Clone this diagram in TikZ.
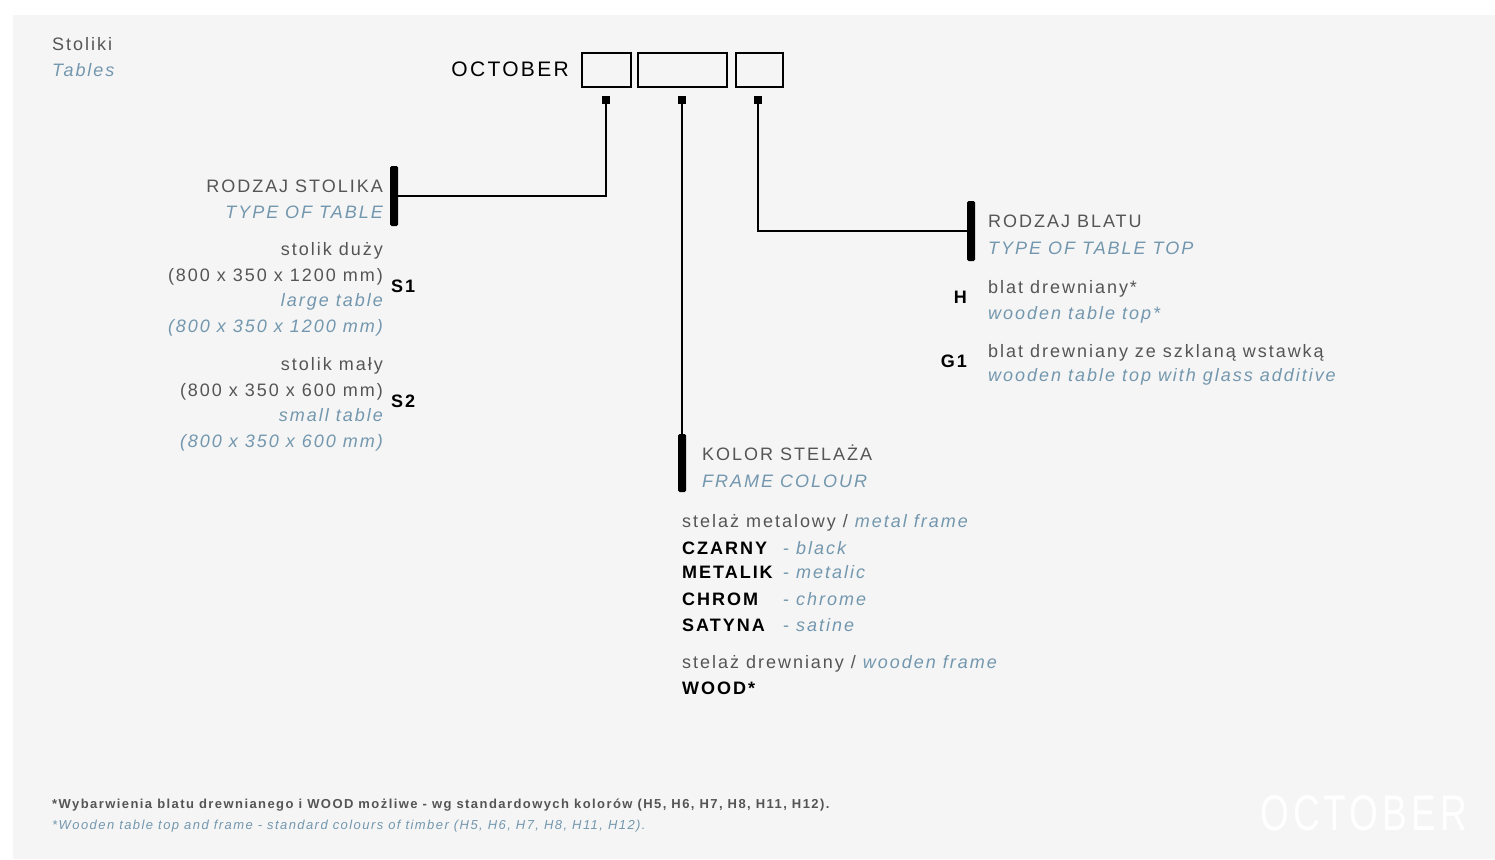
\documentclass[tikz,border=0pt]{standalone}
\usepackage{fontspec}
\setmainfont{Liberation Sans}[LetterSpace=11]
\definecolor{bgout}{HTML}{FFFFFF}
\definecolor{bgin}{HTML}{F5F5F5}
\definecolor{tgrey}{HTML}{555555}
\definecolor{tblue}{HTML}{7397AE}
\begin{document}
\begin{tikzpicture}[x=1pt,y=-1pt,
  pl/.style={text=tgrey,font=\fontsize{18}{20}\selectfont,inner sep=0pt},
  en/.style={text=tblue,font=\fontsize{18}{20}\selectfont\itshape,inner sep=0pt},
  codel/.style={text=black,font=\fontsize{18}{20}\selectfont\bfseries,inner sep=0pt},
  slot/.style={draw=black,line width=2pt,minimum height=33pt,inner sep=0pt},
  sqdot/.style={fill=black,minimum size=8pt,inner sep=0pt},
  vbar/.style={fill=black,rounded corners=1.5pt,minimum width=8pt,inner sep=0pt},
  conn/.style={line width=2pt},
  foot/.style={inner sep=0pt,anchor=base west}]
\useasboundingbox (0,0) rectangle (1495,859);
\fill[bgout] (0,0) rectangle (1495,859);
\fill[bgin] (13,15) rectangle (1495,859);

% title
\node[pl,anchor=base west] (t1) at (52,51) {Stoliki};
\node[en,anchor=base west] (t2) at (52,77) {Tables};

% product code
\node[text=black,font=\fontsize{21}{23}\selectfont,inner sep=0pt,anchor=base east] (oct) at (569,76) {OCTOBER};
\node[slot,minimum width=49pt] (b1) at (606.5,70) {};
\node[slot,minimum width=89pt] (b2) at (682.5,70) {};
\node[slot,minimum width=47pt] (b3) at (759.5,70) {};
\node[sqdot] (d1) at (606,100) {};
\node[sqdot] (d2) at (682,100) {};
\node[sqdot] (d3) at (758,100) {};

% bars
\node[vbar,minimum height=60pt] (bar1) at (394,196) {};
\node[vbar,minimum height=58pt] (bar2) at (682,463) {};
\node[vbar,minimum height=60pt] (bar3) at (971,231) {};

% connectors
\draw[conn] (d1.center) |- (bar1.center);
\draw[conn] (d2.center) -- (bar2.center);
\draw[conn] (d3.center) |- (bar3.center);

% left block
\node[pl,anchor=base east] (l1) at (383,192) {RODZAJ STOLIKA};
\node[en,anchor=base east] (l2) at (383,218) {TYPE OF TABLE};
\node[pl,anchor=base east] (l3) at (383,255) {stolik duży};
\node[pl,anchor=base east] (l4) at (383,281) {(800 x 350 x 1200 mm)};
\node[en,anchor=base east] (l5) at (383,306) {large table};
\node[en,anchor=base east] (l6) at (383,332) {(800 x 350 x 1200 mm)};
\node[codel,anchor=base west] (s1) at (391,292) {S1};
\node[pl,anchor=base east] (l7) at (383,370) {stolik mały};
\node[pl,anchor=base east] (l8) at (383,396) {(800 x 350 x 600 mm)};
\node[en,anchor=base east] (l9) at (383,421) {small table};
\node[en,anchor=base east] (l10) at (383,447) {(800 x 350 x 600 mm)};
\node[codel,anchor=base west] (s2) at (391,407) {S2};

% right block
\node[pl,anchor=base west] (r1) at (988,227) {RODZAJ BLATU};
\node[en,anchor=base west] (r2) at (988,254) {TYPE OF TABLE TOP};
\node[codel,anchor=base east] (h) at (967,303) {H};
\node[pl,anchor=base west] (r3) at (988,293) {blat drewniany*};
\node[en,anchor=base west] (r4) at (988,319) {wooden table top*};
\node[codel,anchor=base east] (g1) at (967,367) {G1};
\node[pl,anchor=base west] (r5) at (988,357) {blat drewniany ze szklaną wstawką};
\node[en,anchor=base west] (r6) at (988,381) {wooden table top with glass additive};

% middle block
\node[pl,anchor=base west] (m1) at (702,460) {KOLOR STELAŻA};
\node[en,anchor=base west] (m2) at (702,487) {FRAME COLOUR};
\node[pl,anchor=base west] (m3) at (682,527) {stelaż metalowy / \textcolor{tblue}{\itshape metal frame}};
\node[codel,anchor=base west] (c1) at (682,554) {CZARNY};
\node[en,anchor=base west] (c1e) at (783,554) {{\upshape -} black};
\node[codel,anchor=base west] (c2) at (682,578) {METALIK};
\node[en,anchor=base west] (c2e) at (783,578) {{\upshape -} metalic};
\node[codel,anchor=base west] (c3) at (682,605) {CHROM};
\node[en,anchor=base west] (c3e) at (783,605) {{\upshape -} chrome};
\node[codel,anchor=base west] (c4) at (682,631) {SATYNA};
\node[en,anchor=base west] (c4e) at (783,631) {{\upshape -} satine};
\node[pl,anchor=base west] (m4) at (682,668) {stelaż drewniany / \textcolor{tblue}{\itshape wooden frame}};
\node[codel,anchor=base west] (c5) at (682,694) {WOOD*};

% footer
\node[foot,text=tgrey,font=\fontsize{13}{15}\selectfont\bfseries] (f1) at (52,808) {*Wybarwienia blatu drewnianego i WOOD możliwe - wg standardowych kolorów (H5, H6, H7, H8, H11, H12).};
\node[foot,text=tblue,font=\fontsize{13}{15}\selectfont\itshape] (f2) at (52,829) {*Wooden table top and frame - standard colours of timber (H5, H6, H7, H8, H11, H12).};

% logo
\node[text=white,font=\fontsize{50}{50}\selectfont,inner sep=0pt,anchor=base west,xscale=0.74] (logo) at (1260,830) {OCTOBER};
\end{tikzpicture}
\end{document}
